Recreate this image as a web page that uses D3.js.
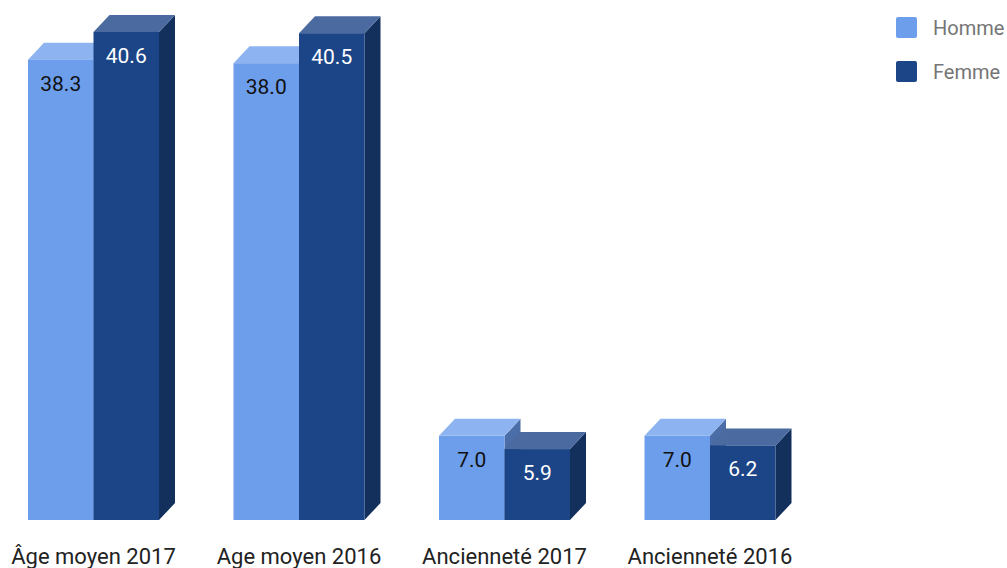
<!DOCTYPE html>
<html>
<head>
<meta charset="utf-8">
<script src="https://cdn.jsdelivr.net/npm/d3@7"></script>
<style>
  html, body { margin: 0; padding: 0; background: #fff; }
  svg { display: block; font-family: Roboto, "Noto Sans", sans-serif; }
</style>
</head>
<body>
<svg id="chart" width="1007" height="568"></svg>
<script>
// Categories and series values
const categories = ["Âge moyen 2017", "Age moyen 2016", "Ancienneté 2017", "Ancienneté 2016"];
const seriesNames = ["Homme", "Femme"];
const homme = [38.3, 38.0, 7.0, 7.0];
const femme = [40.6, 40.5, 5.9, 6.2];

// Face colours for each series: front, top, side
const palette = {
  Homme: { front: "#6d9eeb", top: "#8db4f0", side: "#4b6ea8", text: "#111" },
  Femme: { front: "#1c4587", top: "#4a6aa0", side: "#13305d", text: "#fff" }
};

const svg = d3.select("#chart");
const baseY = 520;
const depthX = 16, depthY = 17;

const x = d3.scaleBand()
  .domain(categories)
  .range([28, 775.5])
  .paddingInner(0.3625)
  .paddingOuter(0);

const xs = d3.scaleBand()
  .domain(seriesNames)
  .range([0, x.bandwidth()])
  .padding(0);

const y = d3.scaleLinear()
  .domain([0, 40])
  .range([baseY, baseY - 40 * 12.02]);

const rows = categories.map((c, i) => ({ cat: c, values: [
  { key: "Homme", v: homme[i] },
  { key: "Femme", v: femme[i] }
]}));

const groups = svg.append("g").selectAll("g.group")
  .data(rows)
  .join("g")
  .attr("class", "group")
  .attr("transform", d => `translate(${x(d.cat)},0)`);

const bars = groups.selectAll("g.bar")
  .data(d => d.values)
  .join("g")
  .attr("class", "bar");

// Side face
bars.append("path")
  .attr("fill", d => palette[d.key].side)
  .attr("d", d => {
    const x1 = xs(d.key) + xs.bandwidth();
    const yt = y(d.v);
    return `M${x1},${baseY}L${x1 + depthX},${baseY - depthY}L${x1 + depthX},${yt - depthY}L${x1},${yt}Z`;
  });

// Top face
bars.append("path")
  .attr("fill", d => palette[d.key].top)
  .attr("d", d => {
    const x0 = xs(d.key), x1 = x0 + xs.bandwidth();
    const yt = y(d.v);
    return `M${x0},${yt}L${x0 + depthX},${yt - depthY}L${x1 + depthX},${yt - depthY}L${x1},${yt}Z`;
  });

// Front face
bars.append("rect")
  .attr("fill", d => palette[d.key].front)
  .attr("x", d => xs(d.key))
  .attr("y", d => y(d.v))
  .attr("width", xs.bandwidth())
  .attr("height", d => baseY - y(d.v));

// Value labels on the front faces
bars.append("text")
  .attr("x", d => xs(d.key) + xs.bandwidth() / 2)
  .attr("y", d => y(d.v) + 31)
  .attr("text-anchor", "middle")
  .attr("font-size", 21)
  .attr("fill", d => palette[d.key].text)
  .text(d => d.v.toFixed(1));

// Category axis labels
const xAxis = d3.axisBottom(x).tickSize(0).tickPadding(0);
const axisG = svg.append("g")
  .attr("transform", `translate(0,${baseY})`)
  .call(xAxis);
axisG.select(".domain").remove();
axisG.selectAll("text")
  .attr("y", 44)
  .attr("dy", null)
  .attr("font-size", 22)
  .attr("font-family", "Roboto, sans-serif")
  .attr("fill", "#222");

// Legend
const legend = svg.append("g").selectAll("g")
  .data(seriesNames)
  .join("g")
  .attr("transform", (d, i) => `translate(896,${17 + i * 44})`);
legend.append("rect")
  .attr("width", 21).attr("height", 21).attr("rx", 2)
  .attr("fill", d => palette[d].front);
legend.append("text")
  .attr("x", 37).attr("y", 18)
  .attr("font-size", 20)
  .attr("fill", "#757575")
  .text(d => d);
</script>
</body>
</html>
